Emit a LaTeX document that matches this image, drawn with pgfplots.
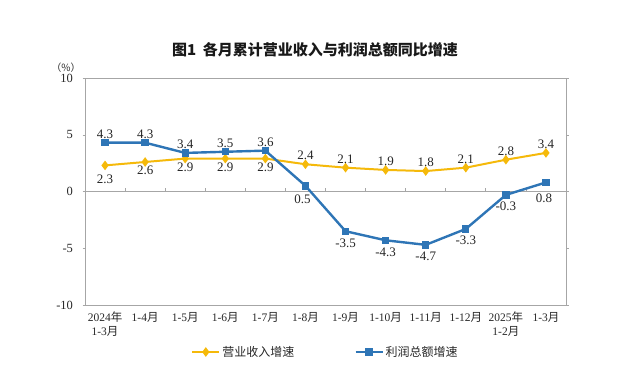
\documentclass[border=0pt]{standalone}
\usepackage{fontspec}
\setmainfont{Liberation Serif}
\newfontfamily\cjkf{Noto Sans CJK SC}
\newcommand\zh[1]{{\cjkf #1}}
\usepackage{pgfplots}
\pgfplotsset{compat=1.18}
\definecolor{cyel}{HTML}{F5B90A}
\definecolor{cblue}{HTML}{2E75B6}
\definecolor{frm}{HTML}{A6A6A6}

\pgfplotsset{lbl/.style={
  forget plot, only marks, mark=none, draw=none,
  nodes near coords, point meta=y,
  every node near coord/.append style={anchor=#1, font=\fontsize{13}{15}\selectfont, text=black!85, inner sep=4pt},
}}

\begin{document}
\begin{tikzpicture}
\path[use as bounding box] (0pt,0pt) rectangle (623pt,377pt);
\begin{axis}[
  at={(85pt,72pt)}, anchor=south west,
  width=481pt, height=227pt, scale only axis,
  xmin=-0.5, xmax=11.5, ymin=-10, ymax=10,
  axis line style={frm, line width=0.8pt},
  xtick={0,...,11},
  xticklabels={{2024\zh{年}\\1-3\zh{月}},1-4\zh{月},1-5\zh{月},1-6\zh{月},1-7\zh{月},1-8\zh{月},1-9\zh{月},1-10\zh{月},1-11\zh{月},1-12\zh{月},{2025\zh{年}\\1-2\zh{月}},1-3\zh{月}},
  xticklabel style={align=center, font=\fontsize{11.5}{13.5}\selectfont, text=black!85, yshift=-1pt},
  major x tick style={draw=none},
  ytick={-10,-5,0,5,10},
  yticklabel style={font=\fontsize{12.5}{14}\selectfont, text=black!85, xshift=-6pt},
  major y tick style={frm},
  tick align=outside, major tick length=2.5pt,
  /pgf/number format/assume math mode=true,
  legend columns=2,
  legend style={at={(0.5,-0.207)}, anchor=center, draw=none, fill=none,
    font=\cjkf\fontsize{12}{14}\selectfont, text=black!85,
    /tikz/every even column/.append style={column sep=58pt}},
  legend image code/.code={\draw[mark repeat=2, mark phase=2] plot coordinates {(0pt,0pt) (13.5pt,0pt) (27pt,0pt)};},
]
\draw[frm, line width=0.8pt] (axis cs:-0.5,0) -- (axis cs:11.5,0);
\pgfplotsinvokeforeach{0.5,1.5,...,10.5}{\draw[frm, line width=0.8pt] (axis cs:#1,0) -- ([yshift=3pt]axis cs:#1,0);}
\addplot[cyel, line width=2pt, mark=diamond*, mark size=3.2pt, mark options={solid, fill=cyel}]
  coordinates {(0,2.3) (1,2.6) (2,2.9) (3,2.9) (4,2.9) (5,2.4) (6,2.1) (7,1.9) (8,1.8) (9,2.1) (10,2.8) (11,3.4)};
\addlegendentry{营业收入增速}
\addplot[cblue, line width=2.4pt, mark=square*, mark size=2.5pt, mark options={solid, fill=cblue}]
  coordinates {(0,4.3) (1,4.3) (2,3.4) (3,3.5) (4,3.6) (5,0.5) (6,-3.5) (7,-4.3) (8,-4.7) (9,-3.3) (10,-0.3) (11,0.8)};
\addlegendentry{利润总额增速}
% value labels
\addplot[lbl=north, every node near coord/.append style={yshift=-5pt}] coordinates {(0,2.3)};
\addplot[lbl=north] coordinates {(1,2.6) (2,2.9) (3,2.9) (4,2.9)};
\addplot[lbl=south] coordinates {(5,2.4) (6,2.1) (7,1.9) (8,1.8) (9,2.1) (10,2.8) (11,3.4)};
\addplot[lbl=south] coordinates {(0,4.3) (1,4.3) (2,3.4) (3,3.5) (4,3.6)};
\addplot[lbl=north, every node near coord/.append style={xshift=-3pt, yshift=-5pt}] coordinates {(5,0.5)};
\addplot[lbl=north, every node near coord/.append style={yshift=-3pt}] coordinates {(6,-3.5) (7,-4.3) (8,-4.7) (9,-3.3) (10,-0.3)};
\addplot[lbl=north, every node near coord/.append style={xshift=-2pt, yshift=-7pt}] coordinates {(11,0.8)};
\end{axis}
\node[font=\cjkf\bfseries\fontsize{15}{18}\selectfont, text=black!90] at (315pt,327pt) {图1\ \ 各月累计营业收入与利润总额同比增速};
\node[font=\cjkf\fontsize{10}{11}\selectfont, text=black!80] at (66pt,309pt) {（\%）};
\end{tikzpicture}
\end{document}
